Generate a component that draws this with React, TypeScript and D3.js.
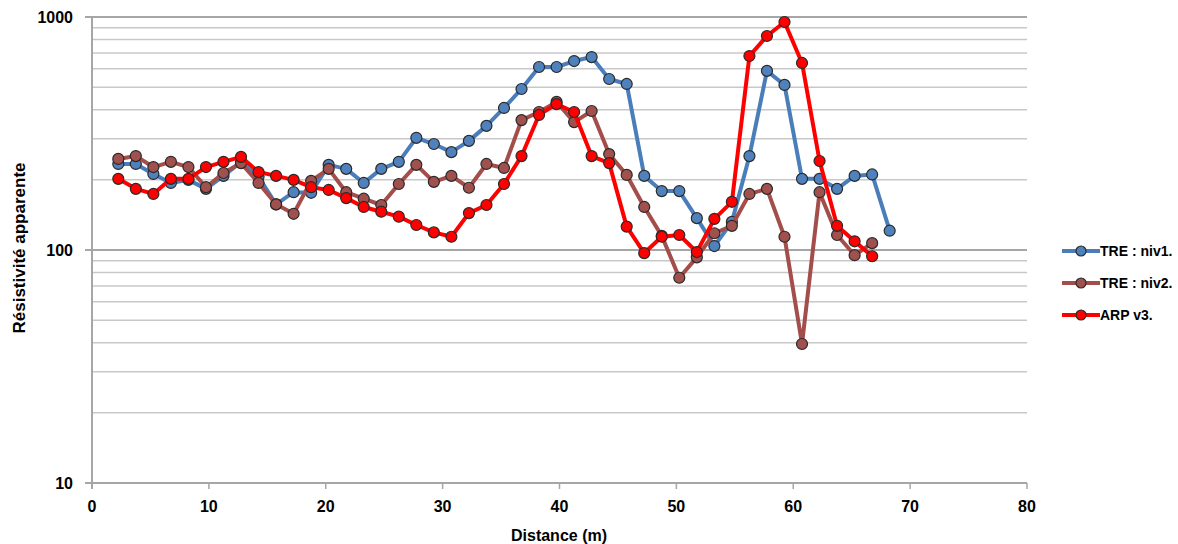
import React from "react";
import * as d3 from "d3";

const distances = [2.25,3.75,5.25,6.75,8.25,9.75,11.25,12.75,14.25,15.75,17.25,18.75,20.25,21.75,23.25,24.75,26.25,27.75,29.25,30.75,32.25,33.75,35.25,36.75,38.25,39.75,41.25,42.75,44.25,45.75,47.25,48.75,50.25,51.75,53.25,54.75,56.25,57.75,59.25,60.75,62.25,63.75,65.25,66.75,68.25];

const niv1 = [234,234,212,194,200,183,208,239,206,157,177,176,232,223,194,223,239,303,285,263,294,341,407,491,610,610,647,673,542,516,208,179,179,137,104,132,253,587,511,202,202,183,208,211,121];
const niv2 = [246,253,227,239,227,186,214,236,194,157,143,198,223,177,166,156,192,232,196,208,185,234,225,361,391,432,354,395,258,210,153,115,76,93,118,127,174,183,114,39.5,177,116,95,107];
const arp3 = [202,183,174,202,202,227,239,251,216,208,200,186,181,167,153,146,139,128,119,114,144,156,192,253,380,423,391,253,236,126,97,114,116,98,136,161,680,829,952,635,241,127,109,94];

const seriesNames = ["TRE : niv1.", "TRE : niv2.", "ARP v3."];
const xTicks = [0,10,20,30,40,50,60,70,80];
const yMajor = [10,100,1000];

const series = [
  { name: seriesNames[0], values: niv1, line: "#4A7EBB", fill: "#4F81BD" },
  { name: seriesNames[1], values: niv2, line: "#A34E4B", fill: "#A0504D" },
  { name: seriesNames[2], values: arp3, line: "#FF0000", fill: "#FF0000" },
];

export default function App() {
  const W = 1178, H = 544;
  const x = d3.scaleLinear().domain([0, 80]).range([92, 1027]);
  const y = d3.scaleLog().domain([10, 1000]).range([483, 17]);
  const minor: number[] = [];
  [10, 100].forEach((b) => { for (let k = 2; k <= 9; k++) minor.push(b * k); });
  const font = "'Liberation Sans', Arial, sans-serif";

  return (
    <svg width={W} height={H} style={{ position: "absolute", left: 0, top: 0, background: "#fff" }} fontFamily={font}>
      {minor.map((v) => (
        <line key={"m" + v} x1={x(0)} x2={x(80)} y1={y(v)} y2={y(v)} stroke="#C8C8C8" strokeWidth={1.5} />
      ))}
      {yMajor.map((v) => (
        <line key={"M" + v} x1={x(0) - 7} x2={x(80)} y1={y(v)} y2={y(v)} stroke="#A6A6A6" strokeWidth={2} />
      ))}
      <line x1={x(0)} x2={x(0)} y1={y(1000)} y2={y(10) + 6} stroke="#A6A6A6" strokeWidth={2} />
      {xTicks.map((t) => (
        <g key={"xt" + t}>
          <line x1={x(t)} x2={x(t)} y1={y(10)} y2={y(10) + 6} stroke="#A6A6A6" strokeWidth={1.5} />
          <text x={x(t)} y={y(10) + 29} textAnchor="middle" fontSize={16} fontWeight="bold" fill="#000">{t}</text>
        </g>
      ))}
      {yMajor.map((v) => (
        <text key={"yl" + v} x={73} y={y(v) + 6} textAnchor="end" fontSize={16} fontWeight="bold" fill="#000">{v}</text>
      ))}
      <text x={559} y={541} textAnchor="middle" fontSize={16} fontWeight="bold">Distance (m)</text>
      <text transform={`translate(25,248) rotate(-90)`} textAnchor="middle" fontSize={17} fontWeight="bold">Résistivité apparente</text>

      {series.map((s) => {
        const pts = s.values.map((v, i) => [x(distances[i]), y(v)] as [number, number]);
        const path = d3.line()(pts) || "";
        return (
          <g key={s.name}>
            <path d={path} fill="none" stroke={s.line} strokeWidth={4} strokeLinejoin="round" />
            {pts.map((p, i) => (
              <circle key={i} cx={p[0]} cy={p[1]} r={5.5} fill={s.fill} stroke="#2A2A2A" strokeWidth={1.2} />
            ))}
          </g>
        );
      })}

      {series.map((s, i) => {
        const ly = 251 + i * 32;
        return (
          <g key={"lg" + i}>
            <line x1={1062} x2={1100} y1={ly} y2={ly} stroke={s.line} strokeWidth={4} />
            <circle cx={1081} cy={ly} r={5} fill={s.fill} stroke="#2A2A2A" strokeWidth={1.2} />
            <text x={1100} y={ly + 5} fontSize={14} fontWeight="bold">{s.name}</text>
          </g>
        );
      })}
    </svg>
  );
}
